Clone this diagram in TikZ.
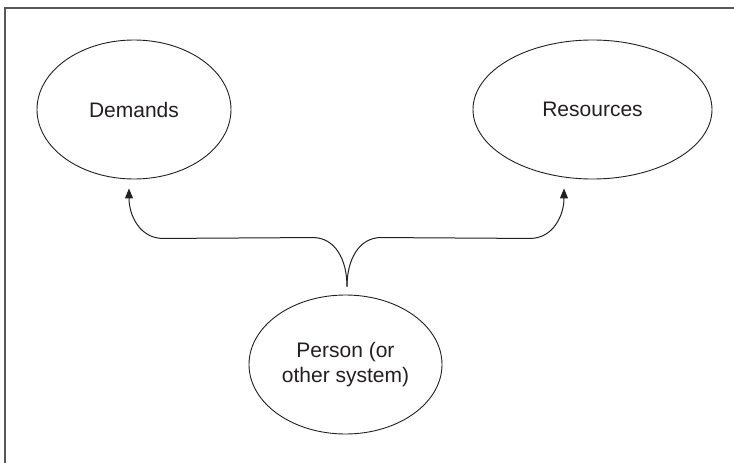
\documentclass[tikz,border=0pt]{standalone}
\usepackage{fontspec}
\setmainfont{Liberation Sans}
\usetikzlibrary{shapes.geometric,calc,arrows.meta}
\definecolor{ink}{HTML}{231F20}
\begin{document}
\begin{tikzpicture}[x=1pt,y=-1pt,
  bubble/.style={draw=ink, line width=0.9pt, ellipse, inner sep=0pt,
    minimum height=139pt, align=center, text=ink,
    font=\fontsize{21}{25}\selectfont},
  flow/.style={draw=ink, line width=1pt, -{Triangle[length=10pt,width=8pt]}},
  frame/.style={draw=ink!75, line width=1.5pt}]
  \useasboundingbox (0,0) rectangle (734,463);
  % open frame: top and left edges only
  \draw[frame] (734,8) -- (5,8) -- (5,463);

  \node[bubble, minimum width=194pt] (demands) at (134,109.5) {Demands};
  \node[bubble, minimum width=239pt] (resources) at (592.5,109.5) {Resources};
  \node[bubble, minimum width=193pt] (person) at (345.5,364.5) {Person (or\\other system)};

  \coordinate (fork) at ([xshift=1.5pt,yshift=8pt]person.north);
  \coordinate (dtip) at ([xshift=-5pt,yshift=-9pt]demands.south);
  \coordinate (rtip) at ([xshift=-28.5pt,yshift=-9pt]resources.south);

  \draw[flow] (fork) .. controls ($(fork)+(0,-27)$) and ($(fork)+(-12,-49)$) .. ($(fork)+(-34,-49)$)
    -- ($(dtip)+(34,50)$) .. controls ($(dtip)+(11,50)$) and ($(dtip)+(0,27)$) .. (dtip);
  \draw[flow] (fork) .. controls ($(fork)+(0,-27)$) and ($(fork)+(12,-49)$) .. ($(fork)+(34,-49)$)
    -- ($(rtip)+(-34,50)$) .. controls ($(rtip)+(-11,50)$) and ($(rtip)+(0,27)$) .. (rtip);
\end{tikzpicture}
\end{document}
